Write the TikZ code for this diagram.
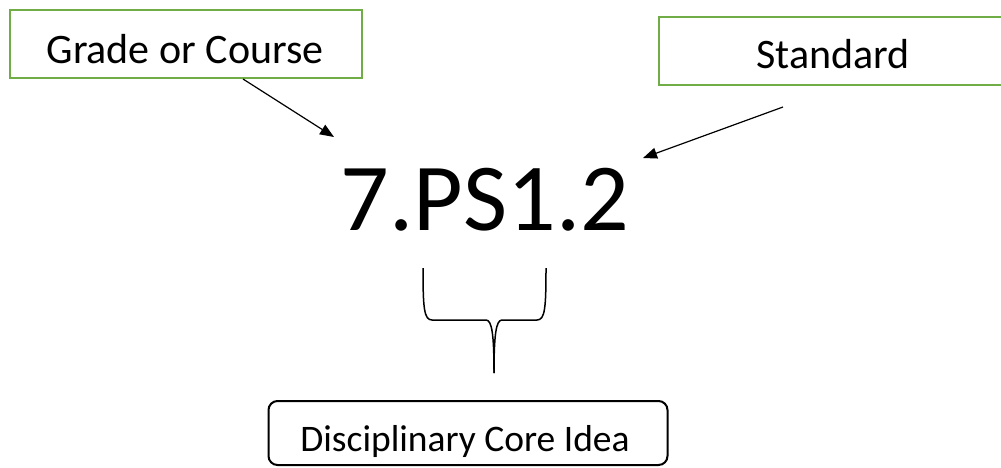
\documentclass[tikz,border=0pt]{standalone}
\usepackage{fontspec}
\setmainfont{Carlito}
\usetikzlibrary{arrows.meta}
\definecolor{boxgreen}{HTML}{70AD47}
\begin{document}
\begin{tikzpicture}[x=1pt,y=-1pt,
  gbox/.style={draw=boxgreen,line width=2.5pt,minimum width=352pt,minimum height=68pt,inner sep=0pt},
  bbox/.style={draw=black,line width=2pt,rounded corners=9pt,minimum width=399pt,minimum height=64pt,inner sep=0pt},
  lbl/.style={font=\fontsize{42}{50}\selectfont,inner sep=0pt,anchor=base},
  pointer/.style={line width=1.2pt,-{Triangle[length=14pt,width=11pt]}},
  bracestyle/.style={line width=1.5pt,line join=round}]
\useasboundingbox (0,0) rectangle (1001,467);
\clip (0,0) rectangle (1001,467);
% boxes
\node[gbox] (grade) at (186,44) {};
\node[lbl] (gradet) at (185,63) {Grade or Course};
\node[gbox] (standard) at (835,51) {};
\node[lbl] (standardt) at (833,68) {Standard};
\node[bbox] (dci) at (468,433) {};
\node[lbl,font=\fontsize{37.5}{45}\selectfont] (dcit) at (465,451) {Disciplinary Core Idea};
% code
\node[inner sep=0pt,anchor=base,font=\fontsize{96}{110}\selectfont] (code) at (485,230) {7.PS1.2};
% arrows
\coordinate (g1) at (243,79);
\coordinate (g2) at (334,137);
\coordinate (s1) at (783,107);
\coordinate (s2) at (643,158);
\draw[pointer] (g1) -- (g2);
\draw[pointer] (s1) -- (s2);
% brace
\coordinate (bl) at (423,268);
\coordinate (br) at (546,268);
\coordinate (tip) at (494,373);
\draw[bracestyle] (bl) .. controls (423,308) and (424,320) .. (432,320) -- (486,320)
  .. controls (492,320) and (494,335) .. (tip);
\draw[bracestyle] (br) .. controls (546,308) and (545,320) .. (537,320) -- (502,320)
  .. controls (496,320) and (494,335) .. (tip);
\end{tikzpicture}
\end{document}
